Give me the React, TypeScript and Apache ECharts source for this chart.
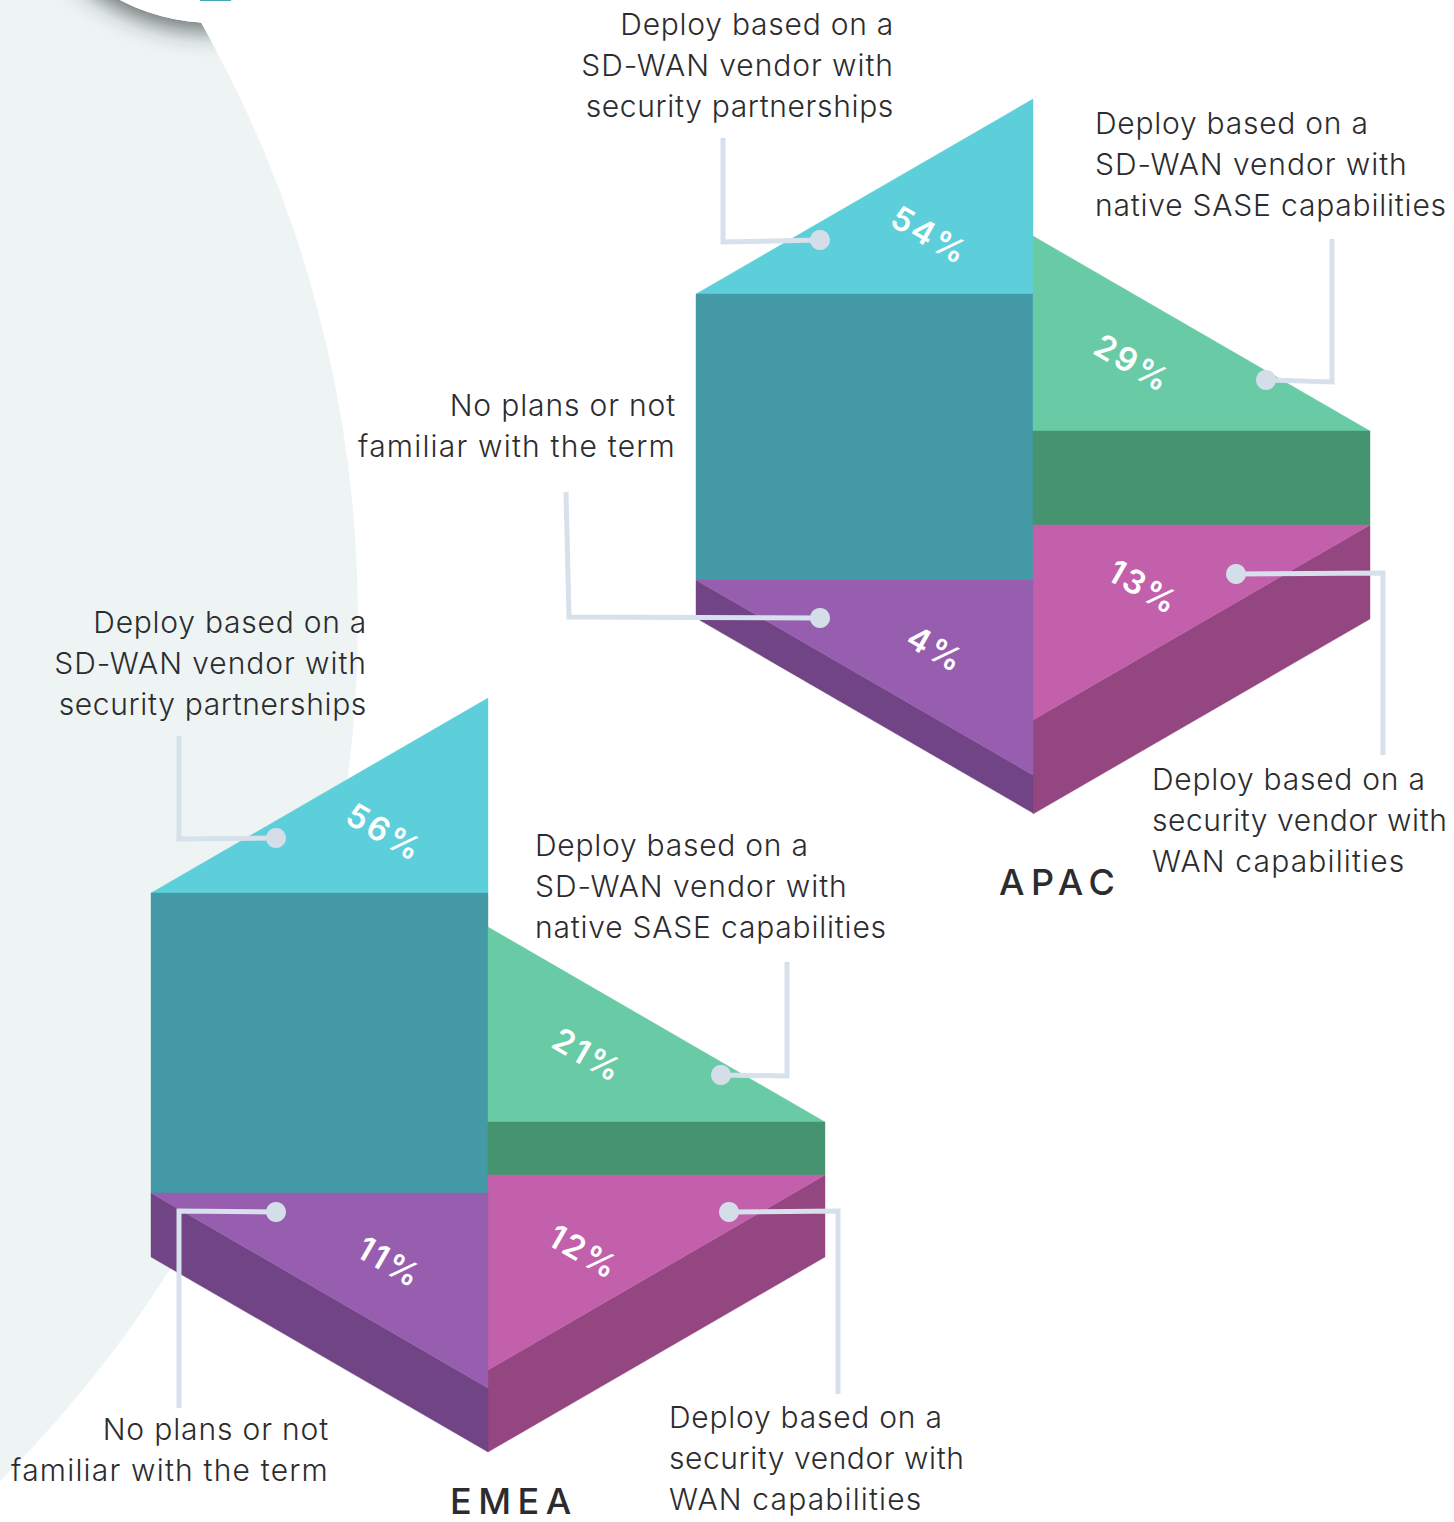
import React, { useEffect, useRef } from "react";
import * as echarts from "echarts";

const regions = ["APAC", "EMEA"];
const segments = [
  "Deploy based on a SD-WAN vendor with security partnerships",
  "Deploy based on a SD-WAN vendor with native SASE capabilities",
  "Deploy based on a security vendor with WAN capabilities",
  "No plans or not familiar with the term",
];
const apacValues = [54, 29, 13, 4];
const emeaValues = [56, 21, 12, 11];
const apacDepths = [286, 94, 94, 38];
const emeaDepths = [300, 53, 82, 64];

const W = 1454, H = 1522;
const FACE = ["#5CCFDA", "#69CBA5", "#C260AC", "#975EAF"];
const SIDE = ["#449AA7", "#46946F", "#944680", "#704485"];
const LINE = "#D6E1EC", DOT = "#D3DEE8", INK = "#2C2C2E";
const FONT = "Inter";
const TEXT_SIZE = 30;

const BLOCK = [
  { x0: 696, xm: 1033, xr: 1370, yTeal: 294, yGreen: 431,
    labels: [[930, 235], [1133, 363], [1144, 587], [936, 649]] },
  { x0: 151, xm: 488, xr: 825, yTeal: 893, yGreen: 1122,
    labels: [[385, 832], [588, 1055], [584, 1252], [390, 1262]] },
];
const RISE = 195;

function depthsOf(i: number) {
  return i === 0 ? apacDepths : emeaDepths;
}

function render(regionIdx: number) {
  return (_p: any, api: any) => {
    const seg = api.value(0), value = api.value(1), depth = api.value(2);
    const b = BLOCK[regionIdx];
    const c = (x: number, y: number) => api.coord([x, y]);
    const poly = (pts: number[][], fill: string) => ({
      type: "polygon",
      shape: { points: pts.map((p) => c(p[0], p[1])) },
      style: { fill, stroke: fill, lineWidth: 0.4 },
    });
    const { x0, xm, xr, yTeal, yGreen } = b;
    const children: any[] = [];
    if (seg === 0) {
      children.push(poly([[x0, yTeal], [xm, yTeal - RISE], [xm, yTeal]], FACE[0]));
      children.push(poly([[x0, yTeal], [xm, yTeal], [xm, yTeal + depth], [x0, yTeal + depth]], SIDE[0]));
    } else if (seg === 1) {
      children.push(poly([[xm, yGreen - RISE], [xr, yGreen], [xm, yGreen]], FACE[1]));
      children.push(poly([[xm, yGreen], [xr, yGreen], [xr, yGreen + depth], [xm, yGreen + depth]], SIDE[1]));
    } else if (seg === 2) {
      const top = yGreen + depthsOf(regionIdx)[1];
      children.push(poly([[xr, top], [xr, top + depth], [xm, top + RISE + depth], [xm, top + RISE]], SIDE[2]));
      children.push(poly([[xm, top], [xr, top], [xm, top + RISE]], FACE[2]));
    } else {
      const top = yTeal + depthsOf(regionIdx)[0];
      children.push(poly([[x0, top], [xm, top + RISE], [xm, top + RISE + depth], [x0, top + depth]], SIDE[3]));
      children.push(poly([[x0, top], [xm, top], [xm, top + RISE]], FACE[3]));
    }
    const at = c(b.labels[seg][0], b.labels[seg][1]);
    children.push({
      type: "text",
      x: at[0],
      y: at[1],
      rotation: -Math.PI / 6,
      style: {
        text: value + "%",
        fill: "#FFFFFF",
        font: `600 33px ${FONT}`,
        align: "center",
        verticalAlign: "middle",
      },
    });
    return { type: "group", children };
  };
}

const TEXTS: { lines: string[]; x: number; y: number; align: string }[] = [
  { lines: ["Deploy based on a", "SD-WAN vendor with", "security partnerships"], x: 894, y: 24, align: "right" },
  { lines: ["Deploy based on a", "SD-WAN vendor with", "native SASE capabilities"], x: 1095, y: 123, align: "left" },
  { lines: ["No plans or not", "familiar with the term"], x: 676, y: 405, align: "right" },
  { lines: ["Deploy based on a", "security vendor with", "WAN capabilities"], x: 1152, y: 779, align: "left" },
  { lines: ["Deploy based on a", "SD-WAN vendor with", "security partnerships"], x: 367, y: 622, align: "right" },
  { lines: ["Deploy based on a", "SD-WAN vendor with", "native SASE capabilities"], x: 535, y: 845, align: "left" },
  { lines: ["No plans or not", "familiar with the term"], x: 329, y: 1429, align: "right" },
  { lines: ["Deploy based on a", "security vendor with", "WAN capabilities"], x: 669, y: 1417, align: "left" },
];
const LINE_SPACING: Record<string, string> = {
  "Deploy based on a": "0.75px",
  "SD-WAN vendor with": "0.95px",
  "native SASE capabilities": "0.8px",
  "security partnerships": "0.65px",
  "security vendor with": "0.55px",
  "WAN capabilities": "1.15px",
  "No plans or not": "0.85px",
  "familiar with the term": "1.2px",
};
const LEADERS = [
  [[723, 138], [723, 242], [820, 240]],
  [[1332, 239], [1332, 382], [1266, 380]],
  [[1383, 755], [1383, 573], [1236, 574]],
  [[566, 492], [569, 617], [820, 618]],
  [[179, 736], [179, 839], [276, 838]],
  [[787, 962], [787, 1076], [721, 1075]],
  [[838, 1394], [838, 1211], [729, 1212]],
  [[179, 1408], [179, 1211], [276, 1212]],
];
const TITLES = [
  { text: regions[0], x: 999, y: 882 },
  { text: regions[1], x: 450, y: 1501 },
];

function buildGraphic() {
  const cx = -857, cy = 620, R = 1215;
  const mask: number[][] = [];
  for (let y = -4; y <= 70; y += 2) mask.push([cx + Math.sqrt(R * R - (y - cy) * (y - cy)), y]);
  mask.push([W, 70], [W, -4]);
  const els: any[] = [
    { type: "circle", z: 0, shape: { cx, cy, r: R }, style: { fill: "#EEF4F4" }, silent: true },
    {
      type: "circle", z: 0, shape: { cx: 215, cy: -185, r: 208 },
      style: { fill: "#FFFFFF", shadowBlur: 24, shadowColor: "rgba(40,50,50,0.7)", shadowOffsetX: -2, shadowOffsetY: 8 },
    },
    { type: "polygon", z: 0, shape: { points: mask }, style: { fill: "#FFFFFF" } },
    { type: "circle", z: 0, shape: { cx: 215, cy: -185, r: 208 }, style: { fill: "#FFFFFF" } },
    { type: "rect", z: 0, shape: { x: 200, y: 0, width: 31, height: 1 }, style: { fill: "#4AA8B5" } },
  ];
  LEADERS.forEach((pts) => {
    els.push({ type: "polyline", z: 5, shape: { points: pts }, style: { stroke: LINE, lineWidth: 5, fill: "none" } });
    const end = pts[pts.length - 1];
    els.push({ type: "circle", z: 6, shape: { cx: end[0], cy: end[1], r: 10 }, style: { fill: DOT } });
  });
  TEXTS.forEach((t) =>
    t.lines.forEach((line, i) =>
      els.push({
        type: "text", z: 7, x: t.x, y: t.y + i * 41,
        style: { text: line, fill: INK, font: `300 ${TEXT_SIZE}px ${FONT}`, align: t.align, verticalAlign: "middle" },
      })
    )
  );
  TITLES.forEach((t) =>
    els.push({
      type: "text", z: 7, x: t.x, y: t.y,
      style: { text: t.text, fill: INK, font: `500 36px ${FONT}`, lineHeight: 30, align: "left", verticalAlign: "middle" },
    })
  );
  return els;
}

function seriesFor(i: number, values: number[], depths: number[]) {
  return {
    type: "custom",
    name: regions[i],
    coordinateSystem: "cartesian2d",
    clip: false,
    silent: true,
    z: 2,
    renderItem: render(i),
    encode: { x: 0, y: 1 },
    data: segments.map((_s, k) => [k, values[k], depths[k]]),
  };
}

export default function App() {
  const ref = useRef<HTMLDivElement>(null);
  useEffect(() => {
    document.body.style.margin = "0";
    const chart = echarts.init(ref.current!, undefined, { renderer: "svg" });
    chart.setOption({
      animation: false,
      backgroundColor: "#FFFFFF",
      grid: { left: 0, right: 0, top: 0, bottom: 0 },
      xAxis: { type: "value", min: 0, max: W, show: false },
      yAxis: { type: "value", min: 0, max: H, inverse: true, show: false },
      graphic: { elements: buildGraphic() },
      series: [seriesFor(0, apacValues, apacDepths), seriesFor(1, emeaValues, emeaDepths)],
    });
    ref.current!.querySelectorAll("text").forEach((el) => {
      const s = el.textContent || "";
      const spacing = regions.includes(s) ? "6.5px" : s.endsWith("%") ? "2.5px" : LINE_SPACING[s] || "0.75px";
      (el as SVGTextElement).style.letterSpacing = spacing;
    });
    return () => chart.dispose();
  }, []);
  return <div ref={ref} style={{ position: "absolute", left: 0, top: 0, width: W, height: H, overflow: "hidden" }} />;
}
